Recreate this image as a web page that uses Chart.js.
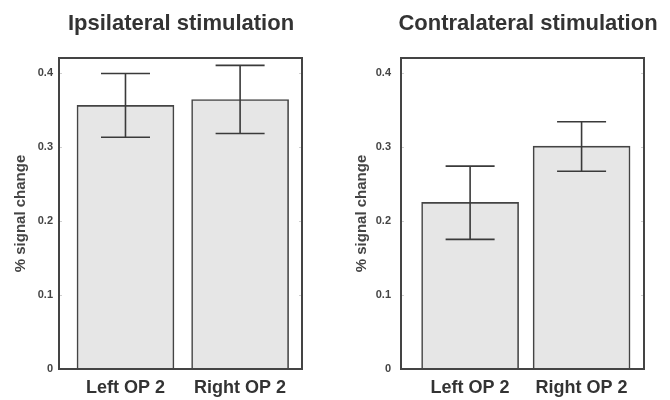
<!DOCTYPE html>
<html>
<head>
<meta charset="utf-8">
<script src="https://cdn.jsdelivr.net/npm/chart.js@4.4.0/dist/chart.umd.min.js"></script>
<style>
  html, body { margin: 0; padding: 0; background: #fff; }
  .wrap { position: absolute; top: 0; width: 335px; height: 400px; }
</style>
</head>
<body>
<div class="wrap" style="left:0"><canvas id="ipsi" width="335" height="400"></canvas></div>
<div class="wrap" style="left:335px"><canvas id="contra" width="335" height="400"></canvas></div>
<script>
// Datos
const categories = ['Left OP 2', 'Right OP 2'];
const ipsiMean = [0.356, 0.364];
const ipsiLow = [0.313, 0.318];
const ipsiHigh = [0.399, 0.410];
const contraMean = [0.225, 0.301];
const contraLow = [0.175, 0.267];
const contraHigh = [0.274, 0.334];
const yTicks = [0, 0.1, 0.2, 0.3, 0.4];

const ink = '#3a3a3a';
const font = 'Liberation Sans, Arial, sans-serif';

// Marco, barras de error y título
const decor = {
  id: 'decor',
  afterDatasetsDraw(chart, args, opts) {
    const { ctx, chartArea: a, scales } = chart;
    const x = scales.x, y = scales.y;
    ctx.save();
    // marcas pequeñas dentro del marco
    ctx.strokeStyle = '#cfcfcf';
    ctx.lineWidth = 1;
    yTicks.forEach(v => {
      const py = Math.round(y.getPixelForValue(v)) + 0.5;
      ctx.beginPath();
      ctx.moveTo(a.left, py); ctx.lineTo(a.left + 3, py);
      ctx.moveTo(a.right, py); ctx.lineTo(a.right - 3, py);
      ctx.stroke();
    });
    // barras de error
    ctx.strokeStyle = ink;
    ctx.lineWidth = 1.6;
    opts.low.forEach((lo, i) => {
      const cx = x.getPixelForValue(i);
      const yl = y.getPixelForValue(lo);
      const yh = y.getPixelForValue(opts.high[i]);
      ctx.beginPath();
      ctx.moveTo(cx, yl); ctx.lineTo(cx, yh);
      ctx.moveTo(cx - 24.5, yl); ctx.lineTo(cx + 24.5, yl);
      ctx.moveTo(cx - 24.5, yh); ctx.lineTo(cx + 24.5, yh);
      ctx.stroke();
    });
    // marco
    ctx.strokeStyle = '#444';
    ctx.lineWidth = 2;
    ctx.strokeRect(a.left, a.top, a.right - a.left, a.bottom - a.top);
    // título
    ctx.fillStyle = '#333';
    ctx.font = 'bold 22px ' + font;
    ctx.textAlign = 'center';
    ctx.textBaseline = 'alphabetic';
    ctx.fillText(opts.title, opts.titleX, 30);
    ctx.restore();
  }
};

function makeChart(id, mean, low, high, title, opt) {
  new Chart(document.getElementById(id), {
    type: 'bar',
    data: {
      labels: categories,
      datasets: [{
        data: mean,
        backgroundColor: '#e6e6e6',
        borderColor: '#444',
        borderWidth: 1.6,
        barThickness: 97
      }]
    },
    options: {
      responsive: false,
      animation: false,
      layout: { padding: { top: 58, right: opt.right, bottom: 0, left: 0 } },
      plugins: {
        legend: { display: false },
        tooltip: { enabled: false },
        decor: { low: low, high: high, title: title, titleX: opt.titleX }
      },
      scales: {
        x: {
          grid: { display: false, drawTicks: false },
          border: { display: false },
          ticks: { color: '#333', padding: 8, font: { family: font, size: 18, weight: 'bold' } },
          // rango del eje como en el original (las barras no quedan centradas)
          afterBuildTicks(s) { s._startValue = opt.xStart; s._valueRange = opt.xRange; },
          afterFit(s) { s.height = 31; }
        },
        y: {
          min: 0,
          max: 0.42,
          afterBuildTicks(s) { s.ticks = yTicks.map(v => ({ value: v })); },
          grid: { display: false, drawTicks: false },
          border: { display: false },
          ticks: {
            color: '#444',
            padding: opt.tickPad,
            font: { family: font, size: 11, weight: 'bold' },
            callback: v => String(v)
          },
          title: {
            display: true,
            text: '% signal change',
            color: '#444',
            font: { family: font, size: 15, weight: 'bold' },
            padding: { top: opt.titlePad, bottom: 0 }
          },
          afterFit(s) { s.width = opt.axisW; }
        }
      }
    },
    plugins: [decor]
  });
}

makeChart('ipsi', ipsiMean, ipsiLow, ipsiHigh, 'Ipsilateral stimulation',
  { right: 33, axisW: 59, tickPad: 6, titlePad: 12, titleX: 181, xStart: -0.58, xRange: 2.12 });
makeChart('contra', contraMean, contraLow, contraHigh, 'Contralateral stimulation',
  { right: 26, axisW: 66, tickPad: 10, titlePad: 18, titleX: 193, xStart: -0.62, xRange: 2.18 });
</script>
</body>
</html>
